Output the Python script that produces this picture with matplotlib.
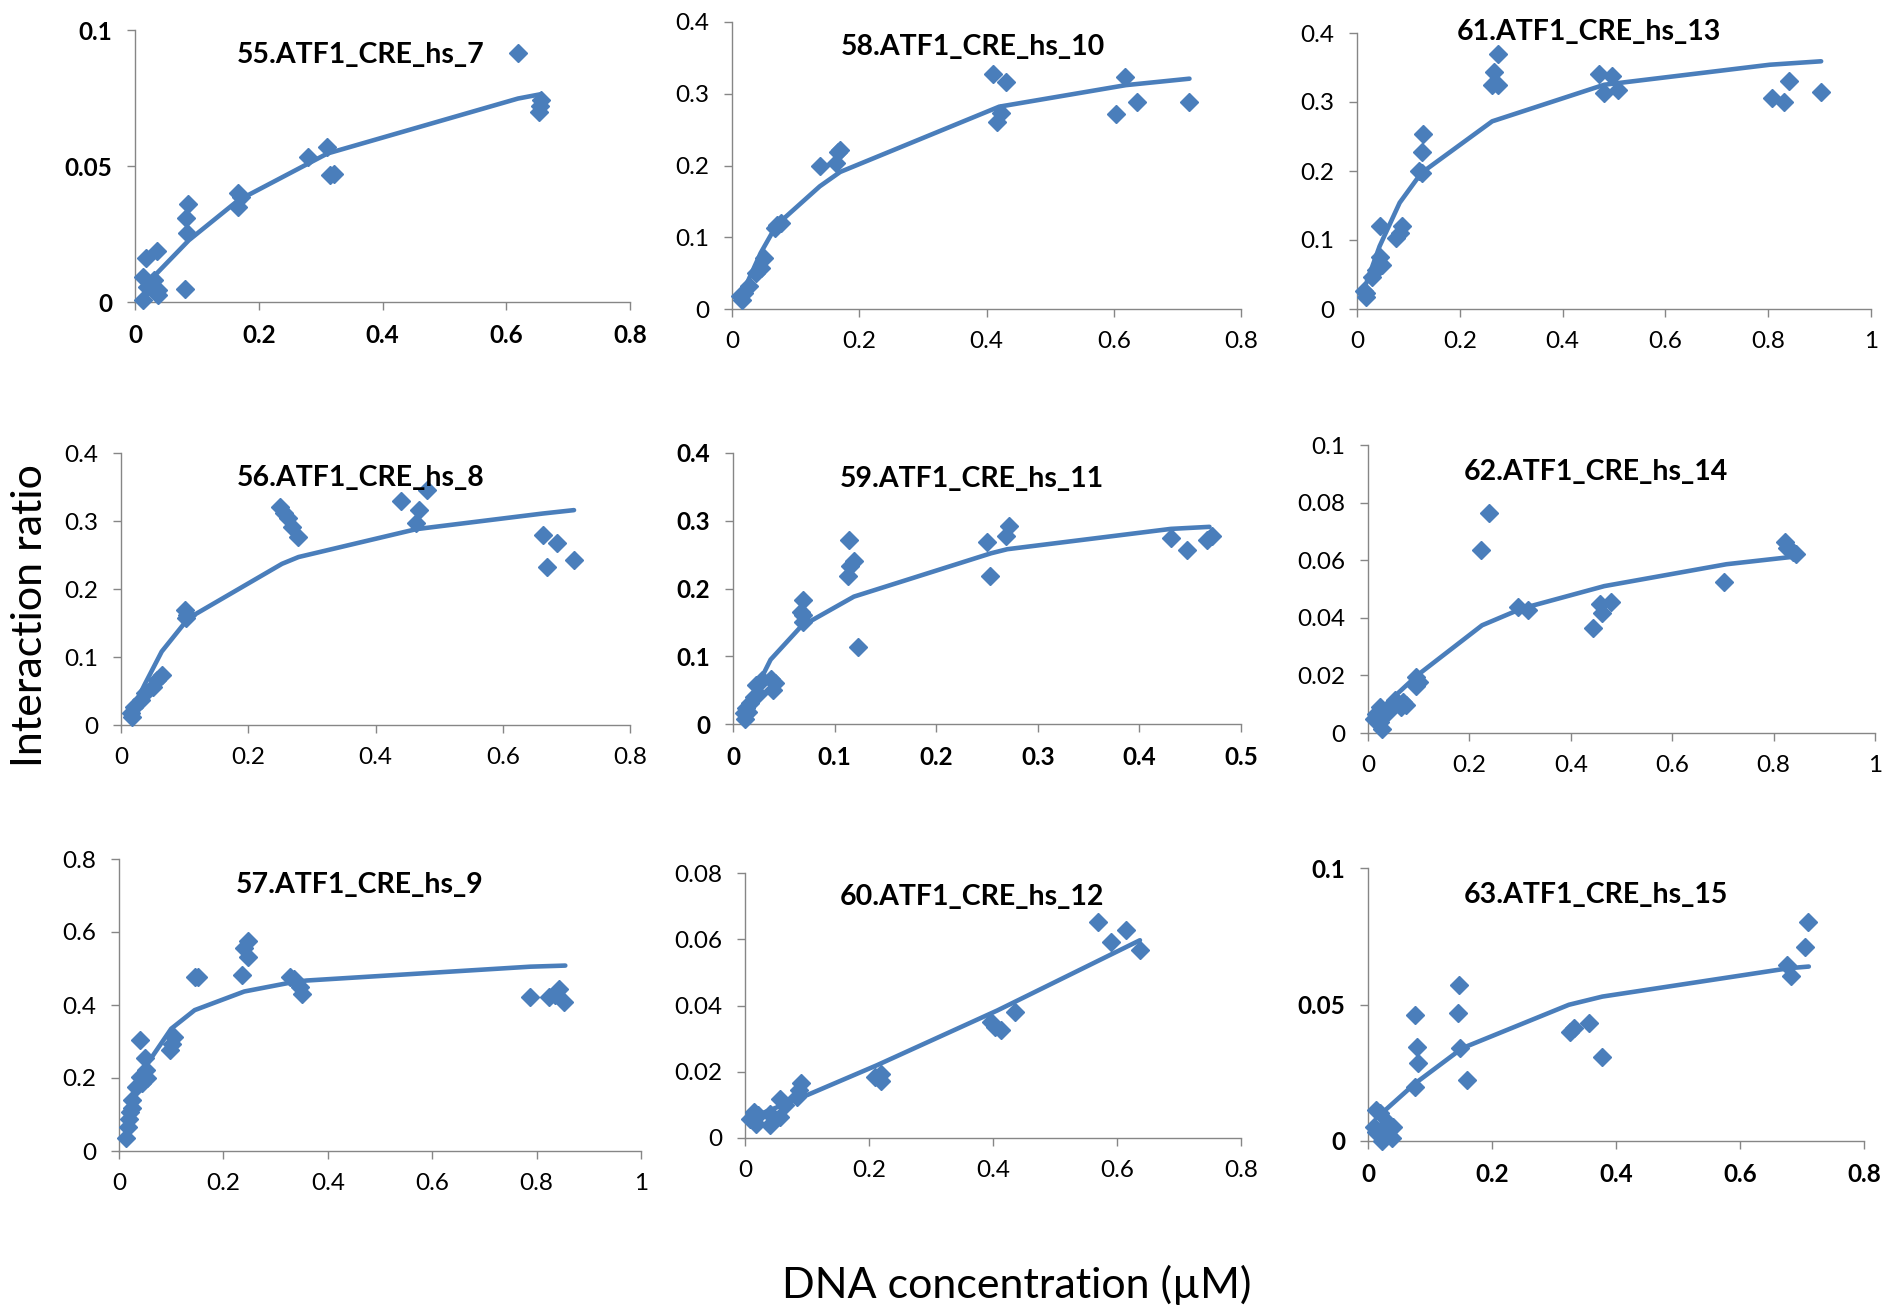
import matplotlib
matplotlib.use("Agg")
import matplotlib.pyplot as plt
from matplotlib.ticker import FuncFormatter

plt.rcParams['font.family'] = ['Lato', 'DejaVu Sans']

BLUE = '#4A7EBB'
AXIS_GRAY = '#868686'

# ---- binding data: measured points and fitted curve for each construct ----
names = ['55.ATF1_CRE_hs_7', '58.ATF1_CRE_hs_10', '61.ATF1_CRE_hs_13',
         '56.ATF1_CRE_hs_8', '59.ATF1_CRE_hs_11', '62.ATF1_CRE_hs_14',
         '57.ATF1_CRE_hs_9', '60.ATF1_CRE_hs_12', '63.ATF1_CRE_hs_15']

x55 = [0.619, 0.656, 0.653, 0.655, 0.310, 0.279, 0.315, 0.322, 0.167, 0.171, 0.167,
       0.085, 0.082, 0.084, 0.080, 0.017, 0.035, 0.013, 0.030, 0.020, 0.037, 0.013, 0.037]
y55 = [0.0914, 0.0742, 0.0700, 0.0722, 0.057, 0.0534, 0.0466, 0.0472, 0.0399, 0.0387, 0.035,
       0.036, 0.0307, 0.0252, 0.0049, 0.016, 0.0188, 0.0092, 0.008, 0.0055, 0.0043, 0.0006, 0.0025]
fx55 = [0.027, 0.087, 0.167, 0.311, 0.619, 0.656]
fy55 = [0.0086, 0.0227, 0.0374, 0.0546, 0.0748, 0.0764]

x58 = [0.411, 0.430, 0.423, 0.417, 0.618, 0.637, 0.603, 0.719, 0.138, 0.164, 0.167, 0.170,
       0.071, 0.077, 0.067, 0.051, 0.045, 0.038, 0.026, 0.019, 0.016, 0.013]
y58 = [0.328, 0.317, 0.273, 0.261, 0.324, 0.289, 0.272, 0.289, 0.199, 0.203, 0.219, 0.222,
       0.117, 0.120, 0.113, 0.071, 0.057, 0.050, 0.032, 0.022, 0.013, 0.018]
fx58 = [0.010, 0.020, 0.045, 0.070, 0.138, 0.170, 0.420, 0.619, 0.719]
fy58 = [0.022, 0.029, 0.078, 0.117, 0.171, 0.191, 0.282, 0.312, 0.321]

x61 = [0.274, 0.267, 0.263, 0.274, 0.470, 0.497, 0.481, 0.508, 0.807, 0.840, 0.830, 0.903,
       0.129, 0.127, 0.121, 0.127, 0.044, 0.087, 0.075, 0.083, 0.044, 0.048, 0.037, 0.029,
       0.018, 0.018, 0.014]
y61 = [0.369, 0.344, 0.325, 0.325, 0.341, 0.337, 0.313, 0.317, 0.306, 0.330, 0.300, 0.314,
       0.253, 0.228, 0.200, 0.197, 0.121, 0.120, 0.103, 0.110, 0.076, 0.064, 0.057, 0.047,
       0.023, 0.018, 0.026]
fx61 = [0.010, 0.044, 0.083, 0.125, 0.263, 0.481, 0.803, 0.903]
fy61 = [0.021, 0.091, 0.154, 0.197, 0.272, 0.325, 0.354, 0.359]

x56 = [0.250, 0.256, 0.263, 0.269, 0.278, 0.440, 0.481, 0.469, 0.463, 0.663, 0.686, 0.670,
       0.712, 0.100, 0.103, 0.102, 0.064, 0.057, 0.051, 0.038, 0.031, 0.021, 0.015, 0.018]
y56 = [0.321, 0.312, 0.304, 0.291, 0.277, 0.329, 0.346, 0.316, 0.297, 0.279, 0.267, 0.232,
       0.242, 0.169, 0.162, 0.157, 0.073, 0.066, 0.056, 0.047, 0.037, 0.027, 0.017, 0.012]
fx56 = [0.012, 0.038, 0.064, 0.106, 0.253, 0.279, 0.464, 0.663, 0.712]
fy56 = [0.012, 0.061, 0.108, 0.157, 0.237, 0.247, 0.288, 0.311, 0.316]

x59 = [0.114, 0.119, 0.115, 0.113, 0.123, 0.069, 0.067, 0.069, 0.069, 0.250, 0.253, 0.272,
       0.269, 0.431, 0.447, 0.467, 0.471, 0.037, 0.041, 0.039, 0.029, 0.023, 0.025, 0.021,
       0.017, 0.013, 0.011, 0.012, 0.015]
y59 = [0.271, 0.240, 0.233, 0.219, 0.114, 0.183, 0.166, 0.161, 0.150, 0.269, 0.219, 0.292,
       0.277, 0.274, 0.257, 0.272, 0.277, 0.067, 0.060, 0.050, 0.065, 0.058, 0.045, 0.040,
       0.031, 0.023, 0.016, 0.007, 0.018]
fx59 = [0.009, 0.037, 0.067, 0.119, 0.254, 0.270, 0.431, 0.469]
fy59 = [0.011, 0.095, 0.144, 0.188, 0.252, 0.258, 0.288, 0.291]

x62 = [0.239, 0.223, 0.822, 0.827, 0.845, 0.838, 0.703, 0.295, 0.315, 0.458, 0.480, 0.462,
       0.443, 0.095, 0.101, 0.095, 0.070, 0.066, 0.074, 0.054, 0.047, 0.039, 0.023, 0.016,
       0.012, 0.027, 0.023]
y62 = [0.0765, 0.0635, 0.0664, 0.0641, 0.0621, 0.0629, 0.0525, 0.0438, 0.0426, 0.0447, 0.0455,
       0.0415, 0.0366, 0.0195, 0.0177, 0.0162, 0.0108, 0.0090, 0.0096, 0.0114, 0.0090, 0.0073,
       0.0090, 0.0067, 0.0050, 0.0015, 0.0038]
fx62 = [0.008, 0.062, 0.097, 0.225, 0.303, 0.466, 0.707, 0.839]
fy62 = [0.0056, 0.0143, 0.0200, 0.0374, 0.0432, 0.0510, 0.0586, 0.0612]

x57 = [0.248, 0.240, 0.248, 0.236, 0.151, 0.146, 0.327, 0.335, 0.347, 0.351, 0.788, 0.824,
       0.843, 0.853, 0.836, 0.040, 0.049, 0.051, 0.041, 0.053, 0.045, 0.033, 0.105, 0.101,
       0.097, 0.025, 0.024, 0.019, 0.017, 0.014, 0.021]
y57 = [0.574, 0.555, 0.532, 0.482, 0.476, 0.478, 0.478, 0.470, 0.450, 0.430, 0.421, 0.421,
       0.443, 0.409, 0.427, 0.304, 0.254, 0.222, 0.204, 0.199, 0.185, 0.176, 0.313, 0.293,
       0.277, 0.140, 0.117, 0.089, 0.067, 0.035, 0.108]
fx57 = [0.014, 0.025, 0.040, 0.050, 0.100, 0.145, 0.240, 0.327, 0.359, 0.788, 0.855]
fy57 = [0.070, 0.120, 0.190, 0.230, 0.335, 0.386, 0.437, 0.461, 0.467, 0.505, 0.508]

x60 = [0.569, 0.615, 0.591, 0.637, 0.397, 0.403, 0.413, 0.436, 0.219, 0.209, 0.219, 0.090,
       0.087, 0.084, 0.057, 0.064, 0.057, 0.041, 0.041, 0.021, 0.014, 0.018, 0.008]
y60 = [0.0652, 0.0627, 0.0592, 0.0567, 0.0350, 0.0335, 0.0325, 0.0380, 0.0194, 0.0184, 0.0172,
       0.0166, 0.0144, 0.0124, 0.0119, 0.0099, 0.0063, 0.0073, 0.0038, 0.0068, 0.0078, 0.0043,
       0.0058]
fx60 = [0.005, 0.087, 0.212, 0.407, 0.637]
fy60 = [0.0058, 0.0119, 0.0219, 0.0385, 0.0597]

x63 = [0.710, 0.705, 0.676, 0.683, 0.146, 0.145, 0.075, 0.079, 0.081, 0.075, 0.149, 0.159,
       0.325, 0.333, 0.356, 0.377, 0.013, 0.019, 0.010, 0.032, 0.041, 0.025, 0.022, 0.038, 0.013]
y63 = [0.0804, 0.0710, 0.0645, 0.0603, 0.0572, 0.0468, 0.0462, 0.0346, 0.0287, 0.0199, 0.0340,
       0.0224, 0.0401, 0.0413, 0.0432, 0.0309, 0.0114, 0.0101, 0.0053, 0.0065, 0.0053, 0.0028,
       0.0000, 0.0010, 0.0034]
fx63 = [0.016, 0.076, 0.152, 0.324, 0.378, 0.679, 0.711]
fy63 = [0.0089, 0.0211, 0.0340, 0.0499, 0.0529, 0.0633, 0.0639]

points = [(x55, y55), (x58, y58), (x61, y61), (x56, y56), (x59, y59),
          (x62, y62), (x57, y57), (x60, y60), (x63, y63)]
fits = [(fx55, fy55), (fx58, fy58), (fx61, fy61), (fx56, fy56), (fx59, fy59),
        (fx62, fy62), (fx57, fy57), (fx60, fy60), (fx63, fy63)]

# axis ranges and tick steps
x_max = [0.8, 0.8, 1.0, 0.8, 0.5, 1.0, 1.0, 0.8, 0.8]
x_step = [0.2, 0.2, 0.2, 0.2, 0.1, 0.2, 0.2, 0.2, 0.2]
y_max = [0.1, 0.4, 0.4, 0.4, 0.4, 0.1, 0.8, 0.08, 0.1]
y_step = [0.05, 0.1, 0.1, 0.1, 0.1, 0.02, 0.2, 0.02, 0.05]
bold_ticks = [True, False, False, False, True, False, False, False, True]

# ---- layout (pixel boxes: left, right, top, bottom) ----
W, H = 1887, 1311
boxes = [(135, 630, 30, 302), (732, 1241, 22, 309), (1357, 1871, 33, 309),
         (121, 630, 453, 725), (733, 1241, 453, 724), (1368, 1875, 445, 733),
         (119, 641, 859, 1151), (745, 1241, 873, 1138), (1368, 1864, 868, 1141)]
title_pos = [(0.456, 0.908), (0.474, 0.913), (0.451, 1.003),
             (0.471, 0.908), (0.470, 0.904), (0.450, 0.906),
             (0.462, 0.911), (0.457, 0.909), (0.460, 0.901)]

fig = plt.figure(figsize=(W / 100, H / 100), dpi=100)

for i in range(9):
    l, r, t, b = boxes[i]
    ax = fig.add_axes([l / W, 1 - b / H, (r - l) / W, (b - t) / H])

    px, py = points[i]
    ax.plot(px, py, linestyle='none', marker='D', markersize=9.5,
            color=BLUE, clip_on=False, zorder=3)
    fx, fy = fits[i]
    ax.plot(fx, fy, color=BLUE, lw=3.3, solid_capstyle='round',
            solid_joinstyle='round', clip_on=False, zorder=4)

    ax.set_xlim(0, x_max[i])
    ax.set_ylim(0, y_max[i])
    nx = int(round(x_max[i] / x_step[i]))
    ny = int(round(y_max[i] / y_step[i]))
    ax.set_xticks([k * x_step[i] for k in range(nx + 1)])
    ax.set_yticks([k * y_step[i] for k in range(ny + 1)])
    fmt = FuncFormatter(lambda v, pos: '{:g}'.format(round(v, 4)))
    ax.xaxis.set_major_formatter(fmt)
    ax.yaxis.set_major_formatter(fmt)

    for side in ['top', 'right']:
        ax.spines[side].set_visible(False)
    for side in ['left', 'bottom']:
        ax.spines[side].set_color(AXIS_GRAY)
        ax.spines[side].set_linewidth(1.0)

    weight = 'bold' if bold_ticks[i] else 'normal'
    ax.tick_params(axis='both', direction='out', length=5.5, width=1.0,
                   color=AXIS_GRAY, labelsize=17.5, labelcolor='black')
    ax.tick_params(axis='x', pad=10)
    ax.tick_params(axis='y', pad=11)
    for lab in ax.get_xticklabels() + ax.get_yticklabels():
        lab.set_fontweight(weight)

    tx, ty = title_pos[i]
    ax.text(tx, ty, names[i], transform=ax.transAxes, ha='center', va='center',
            fontsize=20.5, fontweight='bold', zorder=5)

fig.text(30 / W, 1 - 616 / H, 'Interaction ratio', rotation=90,
         ha='center', va='center', fontsize=31)
fig.text(1017 / W, 1 - 1285 / H, 'DNA concentration (\u00b5M)',
         ha='center', va='center', fontsize=31)

fig.savefig('out.png', dpi=100, facecolor='white')
